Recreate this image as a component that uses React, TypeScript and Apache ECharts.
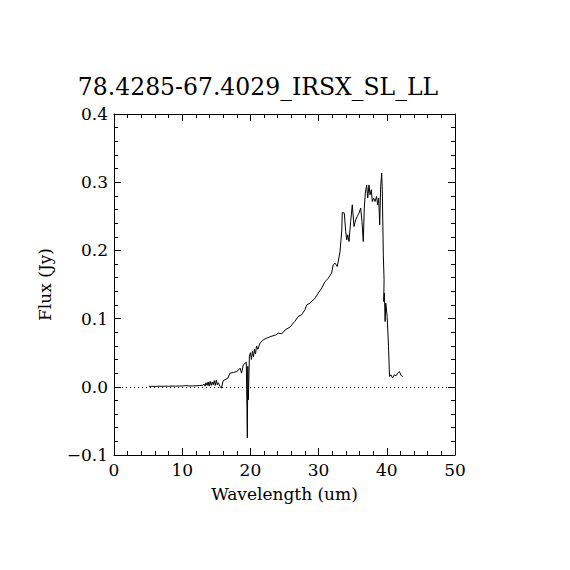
import React, { useEffect, useRef } from "react";
import * as echarts from "echarts";

const titleText = "78.4285-67.4029_IRSX_SL_LL";
const xName = "Wavelength (um)";
const yName = "Flux (Jy)";
const xRange = [0, 50];
const yRange = [-0.1, 0.4];

const wavelength = [
  5.13, 5.5, 6.0, 6.5, 7.0, 7.5, 8.0, 8.5, 9.0, 9.5, 10.0, 10.5, 11.0, 11.5, 12.0, 12.5, 13.0,
  13.2, 13.35, 13.5, 13.65, 13.8, 13.95, 14.1, 14.25, 14.4, 14.55, 14.7, 14.85, 15.0, 15.15, 15.3, 15.5, 15.75,
  16.0, 16.7, 17.0, 17.5, 18.0, 18.3, 18.5, 18.7, 18.95, 19.4, 19.55, 19.62, 19.7, 19.85, 20.0,
  20.15, 20.3, 20.45, 20.6, 20.75, 20.9, 21.1, 21.4, 21.9, 22.4, 23.0, 23.7, 24.1, 24.6, 25.1, 25.8,
  26.5, 27.0, 27.5, 28.0, 28.26, 28.74, 29.47, 29.96, 30.45, 30.94, 31.4, 31.9, 32.15, 32.4, 32.74,
  33.14, 33.4, 33.47, 33.77, 33.97, 34.12, 34.27, 34.46, 34.7, 34.94, 35.19, 35.44, 35.67, 35.92, 36.17,
  36.36, 36.55, 36.7, 36.85, 37.05, 37.2, 37.39, 37.54, 37.73, 37.87, 38.08, 38.27, 38.5, 38.66, 38.81,
  38.96, 39.1, 39.25, 39.34, 39.49, 39.6, 39.55, 39.65, 39.75, 39.85, 40.05, 40.1, 40.25, 40.4, 40.6,
  40.85, 41.1, 41.35, 41.6, 41.85, 42.1, 42.35,
];

const flux = [
  0.0005, 0.0008, 0.0006, 0.0009, 0.0007, 0.001, 0.0008, 0.0011, 0.0009, 0.0012, 0.001, 0.0018, 0.0012, 0.0013, 0.0015, 0.0018, 0.0022,
  0.004, 0.001, 0.006, 0.002, 0.007, 0.001, 0.008, 0.002, 0.007, 0.003, 0.009, 0.002, 0.01, 0.003, 0.006, 0.001, -0.002,
  0.0088, 0.0128, 0.02, 0.021, 0.0224, 0.025, 0.0274, 0.02, 0.032, 0.036, -0.075, 0.03, -0.019, 0.045, 0.05,
  0.04, 0.052, 0.044, 0.055, 0.048, 0.06, 0.055, 0.064, 0.069, 0.0714, 0.0738, 0.076, 0.0787, 0.0777, 0.0836, 0.0875,
  0.0957, 0.103, 0.1056, 0.113, 0.12, 0.1227, 0.13, 0.1374, 0.1447, 0.154, 0.159, 0.1667, 0.179, 0.1814, 0.1764,
  0.198, 0.23, 0.2556, 0.2547, 0.2277, 0.2155, 0.2229, 0.213, 0.2424, 0.2669, 0.235, 0.2449, 0.2497, 0.2547, 0.262,
  0.2424, 0.213, 0.262, 0.284, 0.296, 0.2767, 0.296, 0.2815, 0.2889, 0.2717, 0.2767, 0.2717, 0.279, 0.2669, 0.2767,
  0.2375, 0.2937, 0.3133, 0.2889, 0.1935, 0.157, 0.125, 0.1374, 0.0957, 0.1227, 0.103, 0.0934, 0.059, 0.0151, 0.0176,
  0.0128, 0.0176, 0.0161, 0.02, 0.0224, 0.0166, 0.0151,
];

const FONT = "DejaVu Serif";

export default function App() {
  const ref = useRef<HTMLDivElement>(null);
  useEffect(() => {
    if (!ref.current) return;
    const chart = echarts.init(ref.current, undefined, { renderer: "svg" });
    const axisCommon = {
      type: "value" as const,
      axisLine: { show: true, onZero: false, lineStyle: { color: "#000", width: 1 } },
      axisTick: { show: true, inside: true, length: 7, lineStyle: { color: "#000", width: 1 } },
      minorTick: { show: true, splitNumber: 5, length: 4, lineStyle: { color: "#000", width: 1 } },
      splitLine: { show: false },
      minorSplitLine: { show: false },
    };
    const fmtY = (v: number) => (v < 0 ? "\u2212" : "") + Math.abs(v).toFixed(1);
    chart.setOption({
      animation: false,
      backgroundColor: "#fff",
      title: {
        text: titleText,
        left: 253,
        top: 70,
        textAlign: "center",
        textStyle: { fontFamily: FONT, fontSize: 23.5, fontWeight: "normal", color: "#000" },
      },
      grid: { left: 114, top: 114, width: 341, height: 341, containLabel: false },
      xAxis: [
        {
          ...axisCommon,
          min: xRange[0],
          max: xRange[1],
          interval: 10,
          position: "bottom",
          name: xName,
          nameLocation: "middle",
          nameGap: 30,
          nameTextStyle: { fontFamily: FONT, fontSize: 17, color: "#000" },
          axisLabel: { fontFamily: FONT, fontSize: 17, color: "#000", margin: 6 },
        },
        {
          ...axisCommon,
          min: xRange[0],
          max: xRange[1],
          interval: 10,
          position: "top",
          axisLabel: { show: false },
        },
      ],
      yAxis: [
        {
          ...axisCommon,
          min: yRange[0],
          max: yRange[1],
          interval: 0.1,
          position: "left",
          name: yName,
          nameLocation: "middle",
          nameGap: 61,
          nameTextStyle: { fontFamily: FONT, fontSize: 17, color: "#000" },
          axisLabel: { fontFamily: FONT, fontSize: 17, color: "#000", margin: 6, formatter: fmtY },
        },
        {
          ...axisCommon,
          min: yRange[0],
          max: yRange[1],
          interval: 0.1,
          position: "right",
          axisLabel: { show: false },
        },
      ],
      series: [
        {
          type: "line",
          xAxisIndex: 0,
          yAxisIndex: 0,
          data: wavelength.map((w, i) => [w, flux[i]]),
          showSymbol: false,
          symbol: "none",
          lineStyle: { color: "#000", width: 1 },
          markLine: {
            silent: true,
            symbol: "none",
            label: { show: false },
            lineStyle: { color: "#000", width: 1, type: [1, 3] },
            data: [{ yAxis: 0 }],
          },
        },
      ],
    });
    return () => chart.dispose();
  }, []);
  return (
    <div
      ref={ref}
      style={{ position: "fixed", left: 0, top: 0, width: 570, height: 570, background: "#fff" }}
    />
  );
}
